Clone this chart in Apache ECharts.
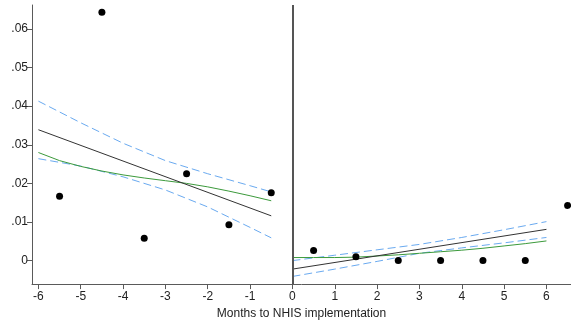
<!DOCTYPE html>
<html><head><meta charset="utf-8">
<script src="https://cdn.jsdelivr.net/npm/echarts@6/dist/echarts.min.js"></script>
<style>html,body{margin:0;padding:0;background:#fff}#c{width:571px;height:325px}</style>
</head><body><div id="c"></div>
<script>
// observed points
var pointX = [-5.5, -4.5, -3.5, -2.5, -1.5, -0.5, 0.5, 1.5, 2.5, 3.5, 4.5, 5.5, 6.5];
var pointY = [0.0167, 0.0643, 0.0058, 0.0225, 0.0093, 0.0176, 0.0026, 0.0010, 0.0000, 0.0000, 0.0000, 0.0000, 0.0143];

// left segment fits
var leftFitX = [-6, -0.5];
var leftFitY = [0.0339, 0.0116];
var leftCIX = [-6, -5, -4, -3, -2, -1, -0.5];
var leftUpper = [0.0413, 0.0357, 0.0304, 0.0259, 0.0225, 0.0194, 0.0178];
var leftLower = [0.0264, 0.0245, 0.0217, 0.0183, 0.0139, 0.0086, 0.0059];
var leftSmoothX = [-6, -5.5, -5, -4.5, -4, -3.5, -3, -2.5, -2, -1.5, -1, -0.5];
var leftSmoothY = [0.0280, 0.0259, 0.0244, 0.0232, 0.0222, 0.0214, 0.0207, 0.0200, 0.0191, 0.0180, 0.0168, 0.0155];

// right segment fits
var rightFitX = [0, 6];
var rightFitY = [-0.0022, 0.0081];
var rightCIX = [0, 1, 2, 3, 4, 5, 6];
var rightUpper = [0.0000, 0.0014, 0.0028, 0.0042, 0.0060, 0.0080, 0.0101];
var rightLower = [-0.0041, -0.0022, -0.0002, 0.0019, 0.0033, 0.0046, 0.0060];
var rightSmoothX = [0, 0.5, 1, 1.5, 2, 2.5, 3, 3.5, 4, 4.5, 5, 5.5, 6];
var rightSmoothY = [0.0008, 0.0008, 0.0008, 0.0009, 0.0012, 0.0015, 0.0019, 0.0023, 0.0027, 0.0032, 0.0038, 0.0044, 0.0051];

// ticks
var xTicks = [-6, -5, -4, -3, -2, -1, 0, 1, 2, 3, 4, 5, 6];
var yTicks = [0, 0.01, 0.02, 0.03, 0.04, 0.05, 0.06];
var yTickLabels = ['0', '.01', '.02', '.03', '.04', '.05', '.06'];
var xTitle = 'Months to NHIS implementation';

function zip(xs, ys) { return xs.map(function (x, i) { return [x, ys[i]]; }); }

var FONT = 'Liberation Sans';
var axisCol = '#5a5a5a';
var blue = '#6aaaf0', green = '#3c9a3c', black = '#333333';

function lineS(xs, ys, color, dashed, z) {
  return {
    type: 'line', data: zip(xs, ys), symbol: 'none', smooth: false, z: z || 2,
    lineStyle: { color: color, width: 1, type: dashed ? [8, 4] : 'solid' },
    silent: true, animation: false
  };
}

var chart = echarts.init(document.getElementById('c'), null, { renderer: 'canvas' });
chart.setOption({
  animation: false,
  backgroundColor: '#fff',
  grid: { left: 32, right: 0, top: 5, bottom: 38, containLabel: false },
  xAxis: {
    type: 'value', min: -6.151, max: 6.58,
    name: xTitle, nameLocation: 'middle', nameGap: 20,
    nameTextStyle: { fontFamily: FONT, fontSize: 12, color: '#222' },
    splitLine: { show: false },
    axisLine: { show: true, onZero: false, lineStyle: { color: axisCol, width: 1 } },
    axisTick: { show: true, length: 5, customValues: xTicks, lineStyle: { color: axisCol } },
    axisLabel: { customValues: xTicks, margin: 7, fontFamily: FONT, fontSize: 12, color: '#222',
      formatter: function (v) { return String(v); } }
  },
  yAxis: {
    type: 'value', min: -0.00608, max: 0.0662,
    splitLine: { show: false },
    axisLine: { show: true, onZero: false, lineStyle: { color: axisCol, width: 1 } },
    axisTick: { show: true, length: 5, customValues: yTicks, lineStyle: { color: axisCol } },
    axisLabel: { customValues: yTicks, margin: 4, fontFamily: FONT, fontSize: 12, color: '#222',
      formatter: function (v) { var i = yTicks.findIndex(function (t) { return Math.abs(t - v) < 1e-9; }); return i >= 0 ? yTickLabels[i] : ''; } }
  },
  series: [
    lineS(leftCIX, leftUpper, blue, true),
    lineS(leftCIX, leftLower, blue, true),
    lineS(rightCIX, rightUpper, blue, true),
    lineS(rightCIX, rightLower, blue, true),
    lineS(leftSmoothX, leftSmoothY, green, false, 3),
    lineS(rightSmoothX, rightSmoothY, green, false, 3),
    lineS(leftFitX, leftFitY, black, false, 4),
    lineS(rightFitX, rightFitY, black, false, 4),
    {
      type: 'scatter', data: zip(pointX, pointY), symbol: 'circle', symbolSize: 7,
      itemStyle: { color: '#000', opacity: 1 }, z: 5, silent: true,
      markLine: {
        silent: true, symbol: 'none', label: { show: false },
        lineStyle: { color: '#555', width: 2, type: 'solid', opacity: 1 },
        data: [{ xAxis: 0 }]
      }
    }
  ]
});
</script></body></html>
